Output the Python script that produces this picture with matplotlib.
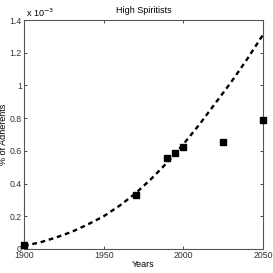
import matplotlib
matplotlib.use('Agg')
import matplotlib.pyplot as plt

plt.rcParams['font.family'] = ['Liberation Sans', 'DejaVu Sans']

# observed points (values in units of 1e-3)
years = [1900, 1970, 1990, 1995, 2000, 2025, 2050]
adherents = [0.024, 0.33, 0.556, 0.588, 0.625, 0.656, 0.79]

# fitted curve
fit_years = [1900, 1910, 1920, 1930, 1940, 1950, 1960, 1970, 1980,
             1990, 2000, 2010, 2020, 2030, 2040, 2050]
fit_vals = [0.02, 0.04, 0.07, 0.105, 0.15, 0.2, 0.265, 0.34, 0.43,
            0.53, 0.64, 0.76, 0.89, 1.02, 1.16, 1.31]

xticks = [1900, 1950, 2000, 2050]
yticks = [0, 0.2, 0.4, 0.6, 0.8, 1, 1.2, 1.4]
ytick_labels = ['0', '0.2', '0.4', '0.6', '0.8', '1', '1.2', '1.4']

fig = plt.figure(figsize=(2.73, 2.73), dpi=100)
ax = fig.add_axes([24 / 273, 24 / 273, 239 / 273, 229 / 273])

ax.plot(fit_years, fit_vals, color='black', linestyle=(0, (2, 1.6)), linewidth=1.7)
ax.plot(years, adherents, 's', color='black', markersize=4.3, clip_on=False, zorder=5)

ax.set_xlim(1900, 2050)
ax.set_ylim(0, 1.4)
ax.set_xticks(xticks)
ax.set_yticks(yticks)
ax.set_yticklabels(ytick_labels)
ax.tick_params(direction='in', length=2.5, width=0.6, labelsize=6.3,
               top=True, right=True, pad=1.5, colors='#333333')
for s in ax.spines.values():
    s.set_linewidth(0.8)
    s.set_color('#555555')

ax.set_title('High Spiritists', fontsize=6.5, pad=5)
ax.set_xlabel('Years', fontsize=6.5, labelpad=0)
ax.set_ylabel('% of Adherents', fontsize=6.5, labelpad=1)
ax.text(0.01, 1.003, r'x 10$^{-3}$', transform=ax.transAxes, fontsize=6.5,
        va='bottom', ha='left')

fig.savefig('out.png', dpi=100)
